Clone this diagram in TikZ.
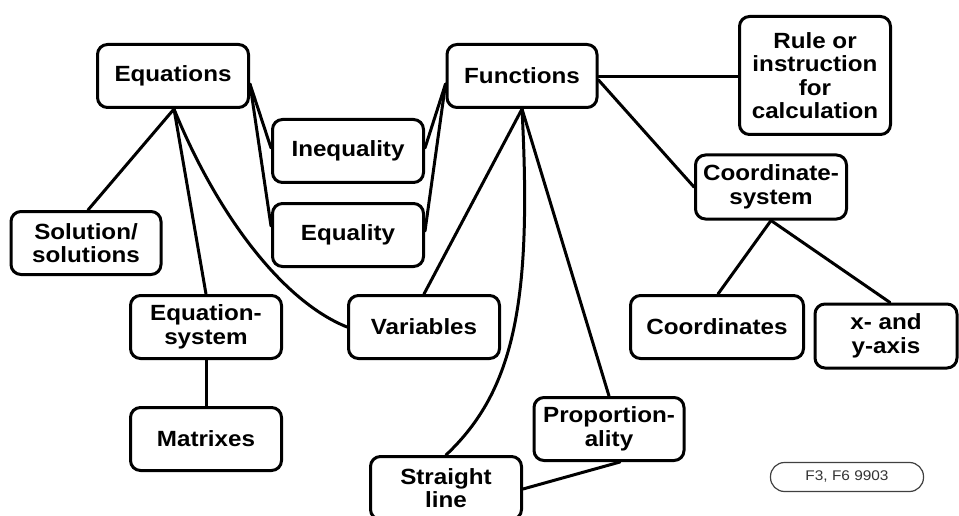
\documentclass[tikz,border=0pt]{standalone}
\usepackage{fontspec}
\setmainfont{Liberation Sans}[FakeStretch=1.1]
\begin{document}
\begin{tikzpicture}[x=1pt,y=-1pt,
  box/.style={draw, line width=3pt, rounded corners=10pt, align=center,
    font=\fontsize{22}{23.5}\selectfont\bfseries, inner sep=0pt,
    minimum width=151pt, minimum height=63pt},
  link/.style={line width=3pt, line cap=round},
  refbox/.style={draw=black!75, line width=1.2pt, rounded corners=14pt, inner sep=0pt,
    minimum width=153pt, minimum height=29pt, font=\fontsize{14}{16}\selectfont, text=black!80}]
\useasboundingbox (0,0) rectangle (959,516);
\fill[white] (0,0) rectangle (959,516);

\node[box] (eq) at (173,76) {Equations};
\node[box] (ineq) at (348,151) {Inequality};
\node[box] (equal) at (348,235) {Equality};
\node[box, minimum width=150pt] (sol) at (86,243) {Solution/\\solutions};
\node[box] (eqsys) at (206,327) {Equation-\\system};
\node[box] (mat) at (206,439) {Matrixes};
\node[box] (var) at (424,327) {Variables};
\node[box, minimum width=150pt] (fun) at (522,76) {Functions};
\node[box, minimum height=118pt] (rule) at (815,75.5) {Rule or\\instruction\\for\\calculation};
\node[box, minimum height=64pt] (csys) at (771,187) {Coordinate-\\system};
\node[box, minimum width=173pt] (coords) at (717,327) {Coordinates};
\node[box, minimum width=142pt, minimum height=64pt] (xy) at (886,336) {x- and\\y-axis};
\node[box, minimum width=150pt] (prop) at (609,429) {Proportion-\\ality};
\node[box] (sl) at (446,488) {Straight\\line};
\node[refbox] (ref) at (847,477) {F3, F6 9903};

\draw[link] ([yshift=-8pt]eq.east) -- ([yshift=3pt]ineq.west);
\draw[link] ([yshift=-8pt]eq.east) -- ([yshift=9pt]equal.west);
\draw[link] ([yshift=-8pt]fun.west) -- ([yshift=3pt]ineq.east);
\draw[link] ([yshift=-8pt]fun.west) -- ([yshift=4pt]equal.east);

\draw[link] ([xshift=1pt]eq.south) -- ([xshift=2pt]sol.north);
\draw[link] ([xshift=1pt]eq.south) -- (eqsys.north);
\draw[link] ([xshift=1pt]eq.south) .. controls (215,210) and (280,300) .. (var.west);
\draw[link] (eqsys.south) -- (mat.north);

\draw[link] (fun.south) -- (var.north);
\draw[link] (fun.south) .. controls (532,300) and (515,390) .. (sl.north);
\draw[link] (fun.south) -- (prop.north);
\draw[link] ([yshift=-1pt]fun.east) -- ([yshift=-1.5pt]rule.west);
\draw[link] ([yshift=-4pt]fun.east) -- (csys.west);
\draw[link] (csys.south) -- ([xshift=1pt]coords.north);
\draw[link] (csys.south) -- ([xshift=4pt]xy.north);
\draw[link] ([yshift=-1pt]sl.east) -- ([xshift=11pt]prop.south);
\end{tikzpicture}
\end{document}
